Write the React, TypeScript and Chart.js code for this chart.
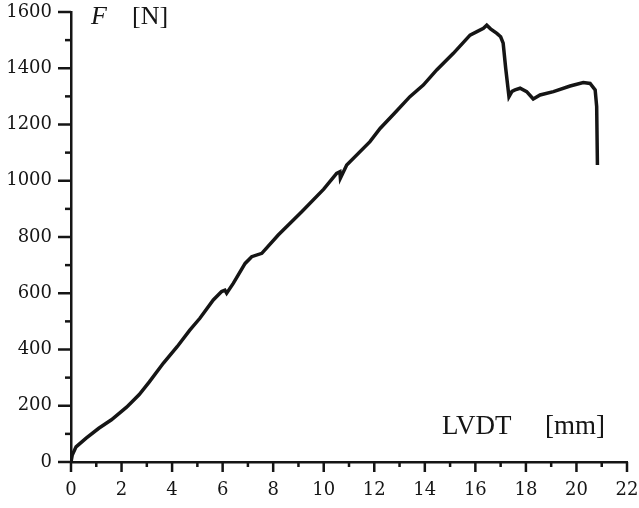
import React, { useEffect, useRef } from "react";
import { Chart, registerables } from "chart.js";

Chart.register(...registerables);

// Load–displacement record: LVDT displacement [mm] vs force [N]
const lvdt: number[] = [
  0, 0.05, 0.2, 0.6, 1.1, 1.6, 2.2, 2.7, 3.1, 3.65, 4.2, 4.7, 5.1, 5.63, 5.96,
  6.09, 6.16, 6.42, 6.89, 7.15, 7.55, 8.2, 9.13, 10.0, 10.51, 10.64, 10.66,
  10.91, 11.83, 12.23, 12.8, 13.41, 13.94, 14.47, 15.13, 15.79, 16.1, 16.32,
  16.45, 16.6, 16.85, 17.0, 17.1, 17.2, 17.33, 17.45, 17.57, 17.77, 18.03,
  18.29, 18.56, 19.09, 19.75, 20.27, 20.54, 20.74, 20.8, 20.83,
];
const force: number[] = [
  0, 25, 54, 85, 120, 150, 195, 240, 285, 351, 410, 469, 511, 576, 606, 611,
  600, 635, 706, 730, 742, 807, 890, 970, 1026, 1032, 1009, 1056, 1139, 1186,
  1240, 1299, 1340, 1394, 1453, 1518, 1532, 1542, 1553, 1540, 1524, 1512, 1489,
  1400, 1299, 1318, 1323, 1329, 1317, 1291, 1305, 1317, 1337, 1349, 1346, 1323,
  1264, 1056,
];

const xMin = 0;
const xMax = 22;
const yMin = 0;
const yMax = 1600;
const xLabelStep = 2;
const yLabelStep = 200;

const ink = "#151515";
const tickFont = { family: "DejaVu Serif", size: 18 };

// Major/minor tick marks drawn outward from the axes, plus the axis captions
const tickMarks = {
  id: "tickMarks",
  afterDraw(chart: Chart) {
    const { ctx } = chart;
    const xs: any = chart.scales.x;
    const ys: any = chart.scales.y;
    const area = chart.chartArea;
    ctx.save();
    ctx.strokeStyle = ink;
    ctx.lineWidth = 2.5;
    ctx.lineCap = "butt";
    for (const t of xs.ticks) {
      const px = xs.getPixelForValue(t.value);
      const major = t.value % xLabelStep === 0;
      ctx.beginPath();
      ctx.moveTo(px, area.bottom);
      ctx.lineTo(px, area.bottom + (major ? 10 : 5));
      ctx.stroke();
    }
    for (const t of ys.ticks) {
      const py = ys.getPixelForValue(t.value);
      const major = t.value % yLabelStep === 0;
      ctx.beginPath();
      ctx.moveTo(area.left, py);
      ctx.lineTo(area.left - (major ? 13 : 6), py);
      ctx.stroke();
    }

    ctx.fillStyle = ink;
    ctx.textBaseline = "alphabetic";
    ctx.textAlign = "left";
    ctx.font = "italic 26px 'Liberation Serif'";
    ctx.fillText("F", area.left + 20, area.top + 12);
    ctx.font = "26px 'Liberation Serif'";
    ctx.fillText("[N]", area.left + 61, area.top + 12);
    ctx.font = "27px 'Liberation Serif'";
    ctx.fillText("LVDT", area.left + 371, area.bottom - 28);
    ctx.fillText("[mm]", area.left + 474, area.bottom - 28);
    ctx.restore();
  },
};

export default function App() {
  const canvasRef = useRef<HTMLCanvasElement | null>(null);

  useEffect(() => {
    if (!canvasRef.current) return;
    const points = lvdt.map((x, i) => ({ x, y: force[i] }));
    const chart = new Chart(canvasRef.current, {
      type: "line",
      data: {
        datasets: [
          {
            data: points,
            borderColor: ink,
            borderWidth: 3.5,
            pointRadius: 0,
            tension: 0,
            fill: false,
          },
        ],
      },
      options: {
        animation: false,
        responsive: true,
        maintainAspectRatio: false,
        layout: { padding: 0 },
        plugins: {
          legend: { display: false },
          tooltip: { enabled: false },
        },
        scales: {
          x: {
            type: "linear",
            min: xMin,
            max: xMax,
            afterFit: (s: any) => {
              s.height = 46;
              s.paddingLeft = 0;
              s.paddingRight = 12;
            },
            grid: {
              drawOnChartArea: false,
              drawTicks: true,
              tickLength: 10,
              tickColor: "transparent",
            },
            border: { display: true, color: ink, width: 2.5 },
            ticks: {
              stepSize: 1,
              autoSkip: false,
              maxRotation: 0,
              padding: 8,
              color: ink,
              font: tickFont,
              callback: (v: any) => (Number(v) % xLabelStep === 0 ? String(v) : ""),
            },
          },
          y: {
            type: "linear",
            min: yMin,
            max: yMax,
            afterFit: (s: any) => {
              s.width = 71;
              s.paddingTop = 12;
              s.paddingBottom = 0;
            },
            grid: {
              drawOnChartArea: false,
              drawTicks: true,
              tickLength: 13,
              tickColor: "transparent",
            },
            border: { display: true, color: ink, width: 2.5 },
            ticks: {
              stepSize: 100,
              autoSkip: false,
              padding: 6,
              color: ink,
              font: tickFont,
              callback: (v: any) => (Number(v) % yLabelStep === 0 ? String(v) : ""),
            },
          },
        },
      },
      plugins: [tickMarks],
    });
    return () => chart.destroy();
  }, []);

  return (
    <div style={{ position: "fixed", left: 0, top: 0, width: 639, height: 508, background: "#fff" }}>
      <canvas ref={canvasRef} />
    </div>
  );
}
